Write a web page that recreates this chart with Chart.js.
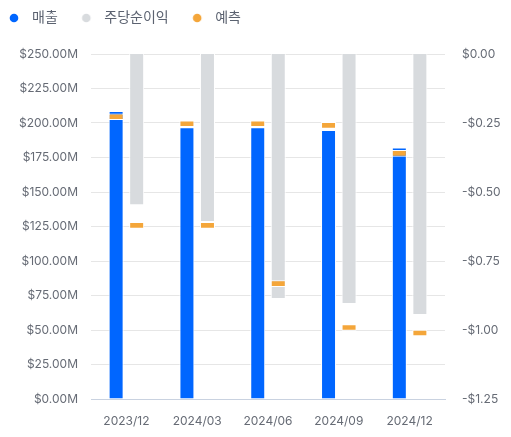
<!DOCTYPE html>
<html>
<head>
<meta charset="utf-8">
<script src="https://cdn.jsdelivr.net/npm/chart.js@4"></script>
<style>
  html, body { margin: 0; padding: 0; background: #fff; }
  #wrap { width: 511px; height: 437px; position: relative; }
</style>
</head>
<body>
<div id="wrap"><canvas id="chart"></canvas></div>
<script>
// ---- data (revenue in $M, EPS in $) ----
const periods = ["2023/12", "2024/03", "2024/06", "2024/09", "2024/12"];
const revenue = [208.7, 196.9, 196.9, 194.9, 182.2];
const revenueForecast = [204.5, 199.5, 199.5, 198.3, 178.0];
const eps = [-0.548, -0.609, -0.888, -0.906, -0.946];
const epsForecast = [-0.621, -0.621, -0.832, -0.991, -1.011];

const BLUE = "#0066ff", GRAY = "#d8dbde", ORANGE = "#f4a63a";
const TICK_COLOR = "#666b75", GRID = "#e6e6e6", BASE = "#c9d2e0";

// forecast marks are thin floating bars around the forecast value
const revHalf = 2.4, epsHalf = 0.012;
const toMark = (vals, h) => vals.map(v => [v - h, v + h]);

// legend dots: small canvas with the dot off-centre so spacing matches
function dot(color){
  const c = document.createElement("canvas");
  c.width = 18; c.height = 10;
  const g = c.getContext("2d");
  g.fillStyle = color;
  g.beginPath(); g.arc(7, 5, 4.3, 0, Math.PI * 2); g.fill();
  return c;
}
const dots = [dot(BLUE), dot(GRAY), dot(ORANGE), dot(ORANGE)];

const legendHeight = {
  id: "legendHeight",
  beforeInit(chart){
    const lg = chart.legend, fit = lg.fit;
    lg.fit = function(){ fit.call(this); this.height = 64.5; };
  }
};

const font = { family: "Inter, 'Noto Sans CJK KR', sans-serif", size: 12 };

new Chart(document.getElementById("chart"), {
  type: "bar",
  data: {
    labels: periods,
    datasets: [
      { label: "매출", data: revenue, backgroundColor: BLUE, yAxisID: "y", stack: "rev", order: 1 },
      { label: "주당순이익", data: eps, backgroundColor: GRAY, yAxisID: "y1", stack: "eps", order: 1 },
      { label: "예측", data: toMark(revenueForecast, revHalf), backgroundColor: ORANGE, yAxisID: "y", stack: "rev", order: 0, borderSkipped: false },
      { label: "예측", data: toMark(epsForecast, epsHalf), backgroundColor: ORANGE, yAxisID: "y1", stack: "eps", order: 0, borderSkipped: false }
    ]
  },
  options: {
    responsive: true,
    maintainAspectRatio: false,
    animation: false,
    layout: { padding: { left: -14.5, top: -10.5, right: 0, bottom: 8 } },
    datasets: { bar: { categoryPercentage: 0.58, barPercentage: 0.73, borderColor: "#ffffff", borderWidth: 1 } },
    plugins: {
      tooltip: { enabled: false },
      legend: {
        position: "top",
        align: "start",
        labels: {
          usePointStyle: true,
          pointStyleWidth: 18,
          boxHeight: 9,
          padding: 21.5,
          color: "#5b6270",
          font: { family: "Inter, 'Noto Sans CJK KR', sans-serif", size: 14 },
          filter: item => item.datasetIndex !== 3,
          sort: (a, b) => a.datasetIndex - b.datasetIndex,
          generateLabels(chart){
            const items = Chart.defaults.plugins.legend.labels.generateLabels(chart);
            items.forEach(it => { it.pointStyle = dots[it.datasetIndex]; });
            return items;
          }
        }
      }
    },
    scales: {
      x: {
        grid: { display: false, drawTicks: false },
        border: { color: BASE, width: 1 },
        ticks: { color: TICK_COLOR, font, padding: 15 },
        afterFit(s){ s.height = 30; }
      },
      y: {
        position: "left",
        stacked: false,
        min: 0, max: 250,
        grid: { color: c => c.tick && c.tick.value === 0 ? BASE : GRID, drawTicks: false },
        border: { display: false },
        ticks: { stepSize: 25, color: TICK_COLOR, font, padding: 13,
                 callback: v => "$" + v.toFixed(2) + "M" },
        afterFit(s){ s.width = 105.5; }
      },
      y1: {
        position: "right",
        stacked: false,
        min: -1.25, max: 0,
        grid: { display: false, drawTicks: false },
        border: { display: false },
        ticks: { stepSize: 0.25, color: TICK_COLOR, font, padding: 17,
                 callback: v => v === 0 ? "$0.00" : "-$" + Math.abs(v).toFixed(2) },
        afterFit(s){ s.width = 66; }
      }
    }
  },
  plugins: [legendHeight]
});
</script>
</body>
</html>
